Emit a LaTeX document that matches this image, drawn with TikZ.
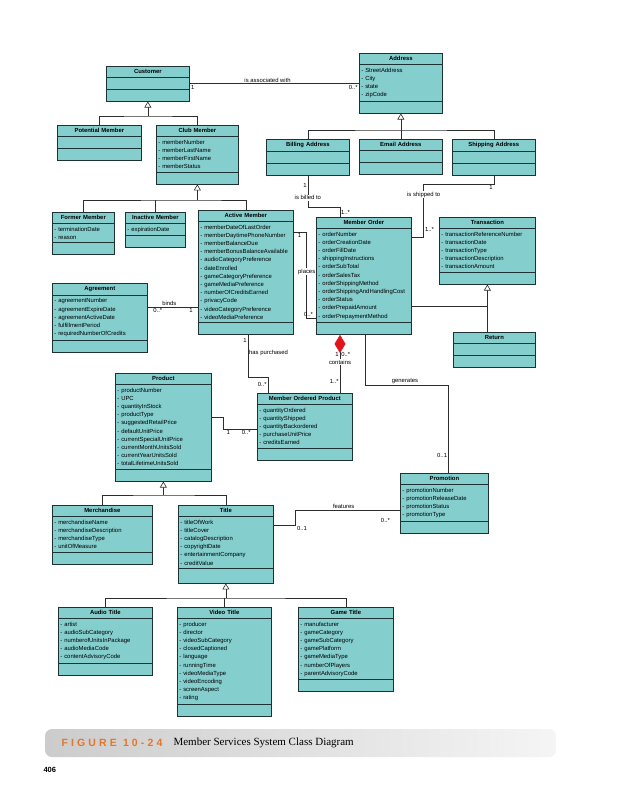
\documentclass[tikz,border=0pt]{standalone}
\usepackage{fontspec}
\setmainfont{Liberation Sans}
\newfontfamily\captionserif{Liberation Serif}
\newfontfamily\figurefont[LetterSpace=30]{Liberation Sans}
\usepackage{xcolor}
\usetikzlibrary{shapes.multipart, arrows.meta, positioning, calc}
\setlength{\parindent}{0pt}
\newcommand{\classname}[1]{\makebox[\hsize]{\textbf{#1}}}

\definecolor{classfill}{RGB}{132,206,206}
\definecolor{classedge}{RGB}{30,50,52}
\definecolor{linkgray}{RGB}{45,45,45}
\definecolor{compred}{RGB}{225,20,30}
\definecolor{figorange}{RGB}{228,118,44}

\begin{document}
\begin{tikzpicture}[
    x=1pt, y=-1pt,
    every node/.style={font=\fontsize{5.9}{8.2}\selectfont},
    umlclass/.style={rectangle split, rectangle split parts=3, draw=classedge, fill=classfill, line width=0.7pt, text width=#1, inner xsep=2pt, inner ysep=3pt, align=left, rectangle split empty part height=5pt, anchor=north west},
    assoc/.style={draw=linkgray, line width=0.6pt},
    gen/.style={assoc, -{Triangle[fill=white, length=6pt, width=7pt]}},
    comp/.style={assoc, {Diamond[length=18pt, width=11pt, color=compred]}-},
    lbl/.style={inner sep=1pt},
    onlbl/.style={fill=white, inner sep=0.8pt}
]
\fill[white] (0,0) rectangle (619,800);
\useasboundingbox (0,0) rectangle (619,800);

\node[umlclass=79] (customer) at (106,66) {\classname{Customer}};
\node[umlclass=79] (address) at (359,53) {\classname{Address}
    \nodepart{second}- StreetAddress\\- City\\- state\\- zipCode};
\node[umlclass=80] (potential) at (57,125) {\classname{Potential Member}};
\node[umlclass=78] (club) at (156,125) {\classname{Club Member}
    \nodepart{second}- memberNumber\\- memberLastName\\- memberFirstName\\- memberStatus};
\node[umlclass=79] (billing) at (266,139) {\classname{Billing Address}};
\node[umlclass=79] (email) at (359,139) {\classname{Email Address}};
\node[umlclass=79] (shipping) at (452,139) {\classname{Shipping Address}};
\node[umlclass=58] (former) at (52,212) {\classname{Former Member}
    \nodepart{second}- terminationDate\\- reason};
\node[umlclass=56] (inactive) at (125,212) {\classname{Inactive Member}
    \nodepart{second}- expirationDate};
\node[umlclass=91] (active) at (198,210) {\classname{Active Member}
    \nodepart{second}- memberDateOfLastOrder\\- memberDaytimePhoneNumber\\- memberBalanceDue\\- memberBonusBalanceAvailable\\- audioCategoryPreference\\- dateEnrolled\\- gameCategoryPreference\\- gameMediaPreference\\- numberOfCreditsEarned\\- privacyCode\\- videoCategoryPreference\\- videoMediaPreference};
\node[umlclass=91] (agreement) at (52,283) {\classname{Agreement}
    \nodepart{second}- agreementNumber\\- agreementExpireDate\\- agreementActiveDate\\- fulfillmentPeriod\\- requiredNumberOfCredits};
\node[umlclass=91] (order) at (316,217) {\classname{Member Order}
    \nodepart{second}- orderNumber\\- orderCreationDate\\- orderFillDate\\- shippingInstructions\\- orderSubTotal\\- orderSalesTax\\- orderShippingMethod\\- orderShippingAndHandlingCost\\- orderStatus\\- orderPrepaidAmount\\- orderPrepaymentMethod};
\node[umlclass=92] (transaction) at (439,217) {\classname{Transaction}
    \nodepart{second}- transactionReferenceNumber\\- transactionDate\\- transactionType\\- transactionDescription\\- transactionAmount};
\node[umlclass=78] (return) at (453,332) {\classname{Return}};
\node[umlclass=92] (product) at (115,373) {\classname{Product}
    \nodepart{second}- productNumber\\- UPC\\- quantityInStock\\- productType\\- suggestedRetailPrice\\- defaultUnitPrice\\- currentSpecialUnitPrice\\- currentMonthUnitsSold\\- currentYearUnitsSold\\- totalLifetimeUnitsSold};
\node[umlclass=91] (ordered) at (257,393) {\classname{Member Ordered Product}
    \nodepart{second}- quantityOrdered\\- quantityShipped\\- quantityBackordered\\- purchaseUnitPrice\\- creditsEarned};
\node[umlclass=84] (promotion) at (400,473) {\classname{Promotion}
    \nodepart{second}- promotionNumber\\- promotionReleaseDate\\- promotionStatus\\- promotionType};
\node[umlclass=96] (merch) at (52,505) {\classname{Merchandise}
    \nodepart{second}- merchandiseName\\- merchandiseDescription\\- merchandiseType\\- unitOfMeasure};
\node[umlclass=91, rectangle split empty part height=8pt] (title) at (178,505) {\classname{Title}
    \nodepart{second}- titleOfWork\\- titleCover\\- catalogDescription\\- copyrightDate\\- entertainmentCompany\\- creditValue};
\node[umlclass=90] (audio) at (58,607) {\classname{Audio Title}
    \nodepart{second}- artist\\- audioSubCategory\\- numberofUnitsInPackage\\- audioMediaCode\\- contentAdvisoryCode};
\node[umlclass=90] (video) at (177,607) {\classname{Video Title}
    \nodepart{second}- producer\\- director\\- videoSubCategory\\- closedCaptioned\\- language\\- runningTime\\- videoMediaType\\- videoEncoding\\- screenAspect\\- rating};
\node[umlclass=91] (game) at (298,607) {\classname{Game Title}
    \nodepart{second}- manufacturer\\- gameCategory\\- gameSubCategory\\- gamePlatform\\- gameMediaType\\- numberOfPlayers\\- parentAdvisoryCode};

\coordinate (custjoin) at (customer.south |- 0,116);
\coordinate (addrjoin) at (address.south |- 0,130);
\coordinate (clubjoin) at (club.south |- 0,200);
\coordinate (transjoin) at (transaction.south |- 0,306);
\coordinate (prodjoin) at (product.south |- 0,495);
\coordinate (titlejoin) at (title.south |- 0,598);

\draw[gen] (custjoin) -- (customer.south);
\draw[assoc] (potential.north) |- (custjoin) -| (club.north);
\draw[gen] (email.north) -- (address.south);
\draw[assoc] (billing.north) |- (addrjoin) -| (shipping.north);
\draw[gen] (clubjoin) -- (club.south);
\draw[assoc] (former.north) |- (clubjoin) -| (active.north);
\draw[assoc] (inactive.north) -- (inactive.north |- clubjoin);
\draw[gen] (transjoin) -- (transaction.south);
\draw[assoc] (transjoin -| order.east) -- (transjoin) -- (transjoin |- return.north);
\draw[gen] (prodjoin) -- (product.south);
\draw[assoc] (merch.north) |- (prodjoin) -| (title.north);
\draw[gen] (titlejoin) -- (title.south);
\draw[assoc] (audio.north) |- (titlejoin) -| (game.north);
\draw[assoc] (video.north) -- (video.north |- titlejoin);

\draw[assoc] (customer.east) -- node[lbl, above, pos=0.46] {is associated with}
    node[lbl, below right, pos=0] {1} node[lbl, below left, pos=1] {0..*} (customer.east -| address.west);

\draw[assoc] (billing.south) -- node[lbl, left, pos=0.3] {1} node[onlbl, pos=0.7] {is billed to} ++(0,31)
    -| node[lbl, right, pos=0.78] {1..*} ([xshift=-24pt]order.north);

\coordinate (shipbend) at ($(order.north east)+(12,20)$);
\draw[assoc] (shipping.south) -- node[lbl, below left, pos=1] {1} ++(0,8)
    -| node[onlbl, pos=0.6] {is shipped to} node[lbl, right, pos=0.93] {1..*} (shipbend) -- (shipbend -| order.east);

\draw[assoc] ($(active.north east)+(0,22)$) -- node[lbl, below, pos=0.45] {1} ++(13,0)
    |- node[onlbl, pos=0.23] {places} node[lbl, above, pos=0.6] {0..*} ($(order.north west)+(0,101)$);

\coordinate (bindsend) at ($(agreement.north east)+(0,24)$);
\draw[assoc] (bindsend) -- node[lbl, above, pos=0.43] {binds}
    node[lbl, below, pos=0.2] {0..*} node[lbl, below, pos=0.86] {1} (bindsend -| active.west);

\coordinate (purchtop) at ($(active.south)+(2,0)$);
\draw[assoc] (purchtop) -- node[lbl, left, pos=0.12] {1} node[lbl, right, pos=0.43] {has purchased} ++(0,42)
    -| node[lbl, left, pos=0.72] {0..*} ($(ordered.north west)+(11,0)$);

\draw[comp] ($(order.south west)+(24,0)$) -- node[lbl, left, pos=0.33] {1} node[lbl, right, pos=0.33] {0..*}
    node[onlbl, pos=0.47] {contains} node[lbl, left, pos=0.8] {1..*} ($(ordered.north west)+(83,0)$);

\draw[assoc] ($(order.south west)+(49,0)$) -- ++(0,50) -| node[lbl, above, pos=0.24] {generates}
    node[lbl, left, pos=0.9] {0..1} ($(promotion.north)+(4,0)$);

\coordinate (featstart) at ($(title.north east)+(0,20)$);
\draw[assoc] (featstart) -- node[lbl, below right, pos=1] {0..1} ++(22,0)
    |- node[lbl, above, pos=0.73] {features} node[lbl, below=7pt, pos=0.93] {0..*} ($(promotion.north west)+(0,37)$);

\draw[assoc] ($(product.north east)+(0,44)$) -- ++(12,0) |- node[lbl, below, pos=0.57] {1}
    node[lbl, below, pos=0.84] {0..*} ($(ordered.north west)+(0,36)$);

\shade[left color=gray!40, right color=gray!8, rounded corners=7pt] (45,729) rectangle (556,757);
\node[anchor=west, text=figorange, font=\figurefont\bfseries\fontsize{10.5}{12}\selectfont] (figlabel) at (58,743) {FIGURE 10-24};
\node[right=4pt of figlabel, font=\captionserif\fontsize{11}{13}\selectfont] (figtitle) {Member Services System Class Diagram};
\node[anchor=west, font=\bfseries\fontsize{7.5}{9}\selectfont] (pagenum) at (40,770) {406};
\end{tikzpicture}
\end{document}
